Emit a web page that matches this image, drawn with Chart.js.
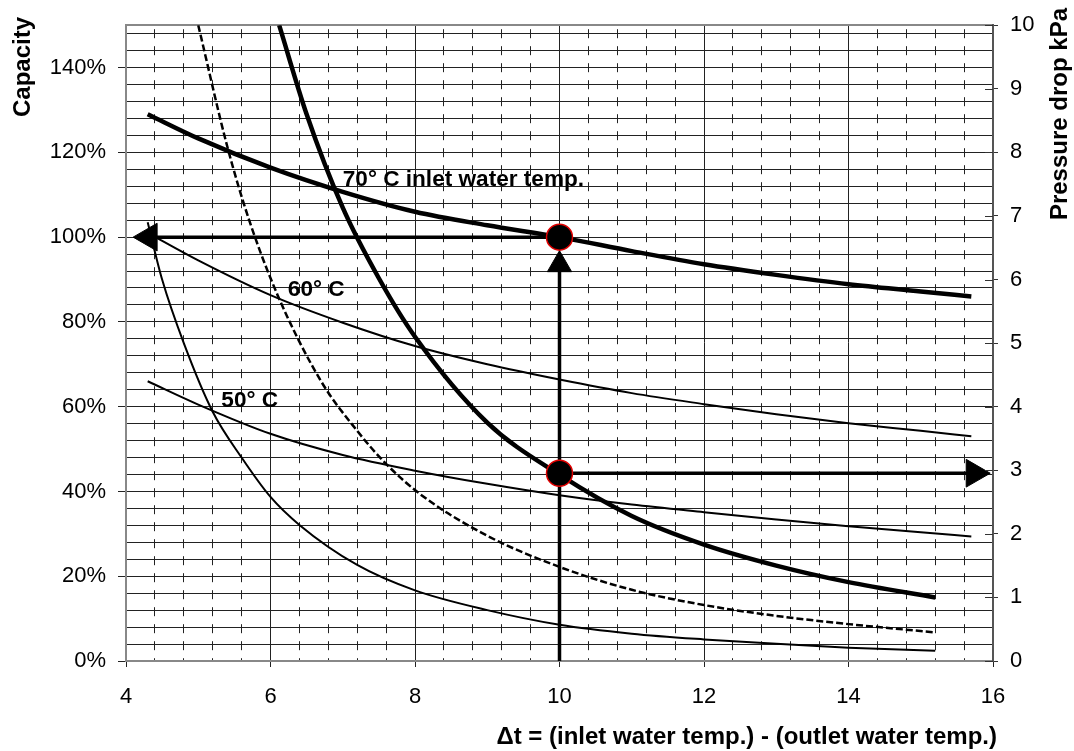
<!DOCTYPE html>
<html>
<head>
<meta charset="utf-8">
<script src="https://cdn.jsdelivr.net/npm/chart.js@4.4.1/dist/chart.umd.min.js"></script>
<style>
  html, body { margin: 0; padding: 0; background: #fff; }
  #wrap { width: 1074px; height: 751px; position: relative; }
</style>
</head>
<body>
<div id="wrap"><canvas id="chart"></canvas></div>
<script>
// capacity (% of nominal) against delta t, left axis
const capX  = [4.3, 5, 6, 7, 8, 9, 10, 11, 12, 13, 14, 15, 15.7];
const cap70 = [129, 123.3, 116.4, 110.7, 106, 102.8, 100, 96.7, 93.6, 91.1, 88.9, 87.2, 86];
const cap60 = [101, 94.5, 86.3, 79.8, 74.3, 70, 66.4, 63.2, 60.6, 58.2, 56.1, 54.3, 53];
const cap50 = [66, 60.5, 53.6, 48.6, 44.9, 41.8, 39.1, 36.9, 35.1, 33.4, 31.8, 30.4, 29.4];

// pressure drop (kPa) against delta t, right axis
const pd70X = [6.12, 6.5, 7, 7.5, 8, 9, 10, 11, 12, 13, 14, 15.2];
const pd70  = [10.0, 8.6, 7.13, 6.02, 5.1, 3.75, 2.93, 2.28, 1.83, 1.5, 1.24, 1.0];
const pd60X = [5.0, 5.4, 5.7, 6.1, 6.7, 7.2, 7.6, 8.1, 9, 10, 11, 12, 13, 14, 15.2];
const pd60  = [10.0, 8.1, 6.95, 5.75, 4.4, 3.62, 3.1, 2.6, 1.97, 1.48, 1.12, 0.88, 0.71, 0.58, 0.45];
const pd50X = [4.3, 4.5, 4.8, 5.2, 5.6, 6, 6.4, 7.2, 8, 9, 10, 11, 12, 13, 14, 15.2];
const pd50  = [6.9, 6.0, 5.0, 3.92, 3.2, 2.58, 2.14, 1.51, 1.11, 0.8, 0.57, 0.43, 0.34, 0.27, 0.21, 0.16];

// worked example: operating points and reading arrows (left axis units)
const pickX = [10, 10];
const pickY = [100, 44.3];
const arrowLeftX  = [10, 4.32];
const arrowLeftY  = [100, 100];
const arrowUpX    = [10, 10];
const arrowUpY    = [0, 93.5];
const arrowRightX = [10, 15.74];
const arrowRightY = [44.3, 44.3];

const xTicks = [4, 6, 8, 10, 12, 14, 16];

const FONT = '"Liberation Sans", Arial, sans-serif';
const toXY = (xs, ys) => xs.map((x, i) => ({ x: x, y: ys[i] }));

const curveLabels = [
  { text: '70° C inlet water temp.', x: 7.0, y: 112.1 },
  { text: '60° C', x: 6.24, y: 86.2 },
  { text: '50° C', x: 5.32, y: 59.9 }
];

function curve(data, axis, width, dash) {
  return {
    data: data, yAxisID: axis, borderColor: '#000', borderWidth: width,
    borderDash: dash || [], pointRadius: 0, cubicInterpolationMode: 'monotone',
    fill: false, order: 2
  };
}

function arrow(xs, ys, rot, size) {
  return {
    data: toXY(xs, ys), yAxisID: 'y', borderColor: '#000', borderWidth: 3.5,
    pointRadius: [0, size], pointStyle: 'triangle', rotation: rot,
    pointBackgroundColor: '#000', pointBorderColor: '#000', pointBorderWidth: 1,
    fill: false, order: 1
  };
}

const isMajorX = v => Math.round(v * 10) % 20 === 0;

const annotate = {
  id: 'annotate',
  afterDatasetsDraw(chart) {
    const { ctx, scales } = chart;
    ctx.save();
    ctx.fillStyle = '#000';
    ctx.font = 'bold 22.6px ' + FONT;
    ctx.textBaseline = 'alphabetic';
    curveLabels.forEach(l => {
      ctx.fillText(l.text, scales.x.getPixelForValue(l.x), scales.y.getPixelForValue(l.y));
    });
    ctx.restore();
  },
  afterDraw(chart) {
    const { ctx, chartArea, scales } = chart;
    ctx.save();
    // right axis ticks cross the axis line
    ctx.strokeStyle = '#333';
    ctx.lineWidth = 1;
    scales.y2.ticks.forEach(t => {
      const y = Math.round(scales.y2.getPixelForValue(t.value)) + 0.5;
      ctx.beginPath();
      ctx.moveTo(chartArea.right - 8, y);
      ctx.lineTo(chartArea.right, y);
      ctx.stroke();
    });
    ctx.fillStyle = '#000';
    ctx.font = 'bold 24px ' + FONT;
    ctx.textBaseline = 'middle';
    ctx.textAlign = 'right';
    ctx.fillText('\u0394t = (inlet water temp.) - (outlet water temp.)', chartArea.right + 4, 737);
    ctx.save();
    ctx.translate(23, 17);
    ctx.rotate(-Math.PI / 2);
    ctx.fillText('Capacity', 0, 0);
    ctx.restore();
    ctx.save();
    ctx.translate(1060, 8);
    ctx.rotate(-Math.PI / 2);
    ctx.fillText('Pressure drop kPa', 0, 0);
    ctx.restore();
    ctx.restore();
  }
};

new Chart(document.getElementById('chart').getContext('2d'), {
  type: 'line',
  data: {
    datasets: [
      {
        data: toXY(pickX, pickY), yAxisID: 'y', showLine: false,
        pointRadius: 13, pointBackgroundColor: '#000', pointBorderColor: '#e00000',
        pointBorderWidth: 1.5, order: 0
      },
      arrow(arrowLeftX, arrowLeftY, -90, 16),
      arrow(arrowUpX, arrowUpY, 0, 14),
      arrow(arrowRightX, arrowRightY, 90, 16),
      curve(toXY(capX, cap70), 'y', 4.5),
      curve(toXY(capX, cap60), 'y', 2),
      curve(toXY(capX, cap50), 'y', 2),
      curve(toXY(pd70X, pd70), 'y2', 4.5),
      curve(toXY(pd60X, pd60), 'y2', 2.5, [7, 3]),
      curve(toXY(pd50X, pd50), 'y2', 2)
    ]
  },
  options: {
    responsive: true,
    maintainAspectRatio: false,
    animation: false,
    events: [],
    layout: { padding: { top: 24, left: 0, right: 0, bottom: 0 } },
    plugins: { legend: { display: false }, tooltip: { enabled: false } },
    scales: {
      x: {
        type: 'linear', min: 4, max: 16,
        afterFit: s => { s.height = 90; },
        ticks: {
          stepSize: 0.4, autoSkip: false, maxRotation: 0, padding: 17,
          color: '#000', font: { family: FONT, size: 22 },
          callback: v => (isMajorX(v) && xTicks.includes(Math.round(v)) ? Math.round(v) : '')
        },
        grid: {
          color: '#222', lineWidth: 1, tickLength: 6,
          tickColor: c => (c.tick && isMajorX(c.tick.value) ? '#222' : 'rgba(0,0,0,0)')
        },
        border: {
          color: '#888', width: 2,
          dash: c => (c.type === 'tick' && c.tick && !isMajorX(c.tick.value) ? [9, 8] : []),
          dashOffset: -4
        }
      },
      y: {
        position: 'left', min: 0, max: 150,
        afterFit: s => { s.width = 126; },
        ticks: {
          stepSize: 2, autoSkip: false, padding: 12, color: '#000',
          font: { family: FONT, size: 22 },
          callback: v => (v % 20 === 0 ? v + '%' : '')
        },
        grid: {
          tickLength: 8,
          color: c => {
            const v = c.tick ? c.tick.value : 0;
            if (v === 150) return '#888';
            return v % 4 === 0 ? '#222' : 'rgba(0,0,0,0)';
          },
          lineWidth: c => (c.tick && c.tick.value === 150 ? 2 : 1),
          tickColor: c => (c.tick && c.tick.value % 20 === 0 ? '#222' : 'rgba(0,0,0,0)')
        },
        border: { color: '#888', width: 2 }
      },
      y2: {
        position: 'right', min: 0, max: 10,
        afterFit: s => { s.width = 81; },
        ticks: {
          stepSize: 1, padding: 12, color: '#000',
          font: { family: FONT, size: 22 }
        },
        grid: { drawOnChartArea: false, tickLength: 5, color: '#333' },
        border: { color: '#555', width: 2 }
      }
    }
  },
  plugins: [annotate]
});
</script>
</body>
</html>
